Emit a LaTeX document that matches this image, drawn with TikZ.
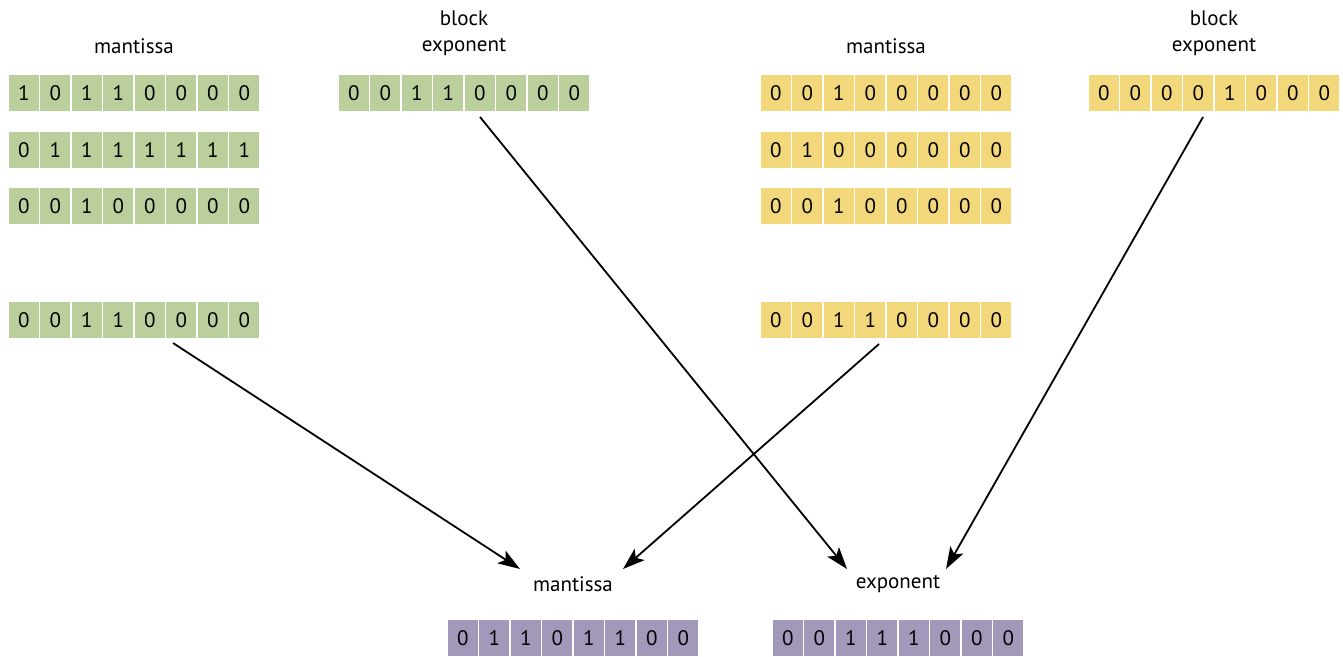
\documentclass[tikz,border=0pt]{standalone}
\usepackage{fontspec}
\setmainfont{PT Sans}
\usetikzlibrary{arrows.meta}
\definecolor{cgreen}{RGB}{187,207,157}
\definecolor{cyellow}{RGB}{242,216,122}
\definecolor{cpurple}{RGB}{162,153,186}
\tikzset{
  bitcell/.style={draw=white, line width=1.6pt, minimum width=31.5pt, minimum height=37.5pt, inner sep=0pt, font=\fontsize{21}{24}\selectfont, anchor=center},
  lbl/.style={font=\fontsize{21}{26}\selectfont, align=center, inner sep=0pt},
  conn/.style={line width=1.8pt, -{Stealth[length=22pt, width=15pt, inset=5pt]}}
}
\newcommand\bitrow[5]{%
  \foreach \b [count=\i] in {#5} {
    \node[bitcell, fill=#4] (#1-\i) at ({#2+(\i-1)*31.5+15.75}, {#3+18.75}) {\b};
  }
}
\begin{document}
\begin{tikzpicture}[x=1pt, y=-1pt]
\useasboundingbox (0,0) rectangle (1343,656);
% green
\bitrow{g1}{8}{74}{cgreen}{1,0,1,1,0,0,0,0}
\bitrow{g2}{8}{131}{cgreen}{0,1,1,1,1,1,1,1}
\bitrow{g3}{8}{187}{cgreen}{0,0,1,0,0,0,0,0}
\bitrow{g4}{8}{301}{cgreen}{0,0,1,1,0,0,0,0}
\bitrow{gb}{338}{74}{cgreen}{0,0,1,1,0,0,0,0}
% yellow
\bitrow{y1}{760}{74}{cyellow}{0,0,1,0,0,0,0,0}
\bitrow{y2}{760}{131}{cyellow}{0,1,0,0,0,0,0,0}
\bitrow{y3}{760}{187}{cyellow}{0,0,1,0,0,0,0,0}
\bitrow{y4}{760}{301}{cyellow}{0,0,1,1,0,0,0,0}
\bitrow{yb}{1088}{74}{cyellow}{0,0,0,0,1,0,0,0}
% purple
\bitrow{pm}{447}{619}{cpurple}{0,1,1,0,1,1,0,0}
\bitrow{pe}{772}{619}{cpurple}{0,0,1,1,1,0,0,0}
% labels
\node[lbl] (lgm) at (134,46) {mantissa};
\node[lbl] (lgb) at (464,33) {block\\exponent};
\node[lbl] (lym) at (886,46) {mantissa};
\node[lbl] (lyb) at (1214,33) {block\\exponent};
\node[lbl] (lpm) at (573,584) {mantissa};
\node[lbl] (lpe) at (898,584) {exponent};
% arrow end points
\coordinate (s1) at (173,343);
\coordinate (s2) at (480,117);
\coordinate (s3) at (879,344);
\coordinate (s4) at (1203,117);
\coordinate (e1) at (520,569);
\coordinate (e2) at (847,569);
\coordinate (e3) at (623,569);
\coordinate (e4) at (946,569);
\draw[conn] (s1) -- (e1);
\draw[conn] (s2) -- (e2);
\draw[conn] (s3) -- (e3);
\draw[conn] (s4) -- (e4);
\end{tikzpicture}
\end{document}
